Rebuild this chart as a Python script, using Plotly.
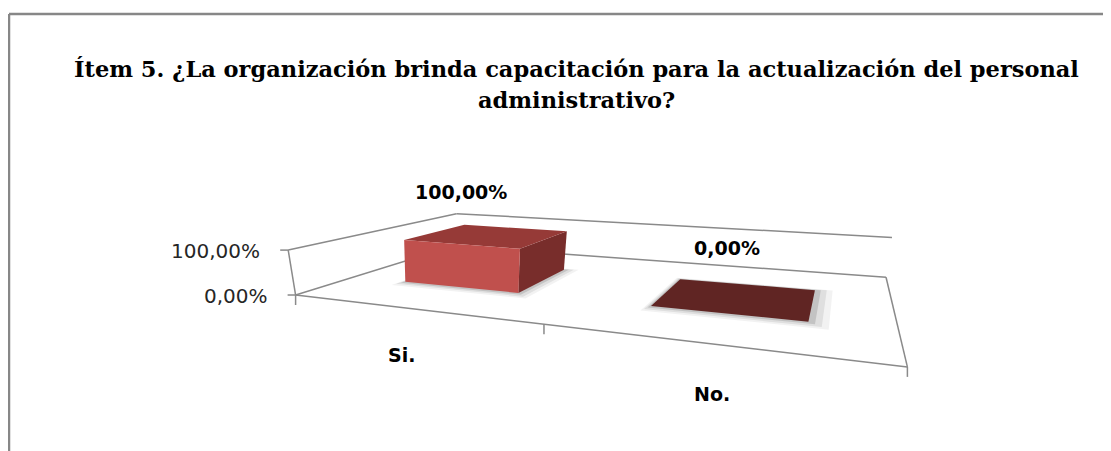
import numpy as np
import plotly.graph_objects as go

# ---- data ----
categories = ["Si.", "No."]
values = [1.0, 0.0]                       # fraction (100 % / 0 %)
value_ticks = [0.0, 1.0]
value_tick_labels = ["0,00%", "100,00%"]
title_lines = ["Ítem 5. ¿La organización brinda capacitación para la actualización del personal",
               "administrativo?"]

# ---- perspective camera (category, depth) plane at value 0 and at value 1 -> page pixels ----
H_FLOOR = np.array([[162.2608, 338.6355, 295.5993],
                    [-22.13772, 49.24903, 295.011],
                    [-0.1582963, 0.3986735, 1.0]])
H_TOP = np.array([[164.6095, 375.3272, 288.2135],
                  [-23.17019, 60.49231, 250.1039],
                  [-0.17036, 0.4536795, 1.0]])


def ph(H, X, Y):
    h = H @ np.array([X, Y, 1.0])
    return np.array([h[0] / h[2], h[1] / h[2]])


def proj(X, Y, Z):
    return (1 - Z) * ph(H_FLOOR, X, Y) + Z * ph(H_TOP, X, Y)


fig = go.Figure()
line_col = "#8a8a8a"


def seg(a, b, width=1.5, color=line_col):
    fig.add_trace(go.Scatter(x=[a[0], b[0]], y=[a[1], b[1]], mode="lines",
                             line=dict(color=color, width=width), hoverinfo="skip"))


def poly(pts, color):
    xs = [p[0] for p in pts] + [pts[0][0]]
    ys = [p[1] for p in pts] + [pts[0][1]]
    fig.add_trace(go.Scatter(x=xs, y=ys, mode="lines", fill="toself", fillcolor=color,
                             line=dict(width=0, color=color), hoverinfo="skip"))


n = len(categories)
zmax = max(value_ticks)
# side wall / back wall gridlines
for z in value_ticks:
    seg(proj(0, 0, z), proj(0, 1, z))
    seg(proj(0, 1, z), proj(n, 1, z))
# value axis, floor right edge, category axis
seg(proj(0, 0, 0), proj(0, 0, zmax))
seg(proj(n, 1, 0), proj(n, 0, 0))
seg(proj(0, 0, 0), proj(n, 0, 0))
for z in value_ticks:
    a = proj(0, 0, z)
    seg(a, a + np.array([-8, 0]))
for i in range(n + 1):
    a = proj(i, 0, 0)
    seg(a, a + np.array([0, 10]))

# ---- 3D columns ----
half_w = 0.25
y0, y1 = 0.3, 0.7
for i, (cat, v) in enumerate(zip(categories, values)):
    c = i + 0.5
    xa, xb = c - half_w, c + half_w
    for grow, op in [(0.06, 0.05), (0.04, 0.08), (0.02, 0.12)]:
        poly([proj(xa - grow * 0.3, y0 - grow, 0), proj(xb + grow, y0 - grow, 0),
              proj(xb + grow, y1 + grow * 0.3, 0), proj(xa - grow * 0.3, y1 + grow * 0.3, 0)],
             f"rgba(0,0,0,{op})")
    if v > 0:
        poly([proj(xb, y0, 0), proj(xb, y1, 0), proj(xb, y1, v), proj(xb, y0, v)], "#782d2b")
        poly([proj(xa, y0, v), proj(xb, y0, v), proj(xb, y1, v), proj(xa, y1, v)], "#963a37")
        poly([proj(xa, y0, 0), proj(xb, y0, 0), proj(xb, y0, v), proj(xa, y0, v)], "#c0504d")
    else:
        poly([proj(xa, y0, 0), proj(xb, y0, 0), proj(xb, y1, 0), proj(xa, y1, 0)], "#602523")

# ---- texts ----
annots = []
for i, (cat, v) in enumerate(zip(categories, values)):
    c = i + 0.5
    px = proj(c, y0, v)[0] + 1
    py = proj(c, y1, v)[1]
    annots.append(dict(x=px, y=py, text="<b>" + f"{v * 100:.2f}".replace(".", ",") + "%</b>",
                       yshift=36, showarrow=False,
                       font=dict(family="DejaVu Sans", size=19, color="black")))
    q = proj(c, -0.11, 0)
    annots.append(dict(x=q[0], y=q[1], text="<b>" + cat + "</b>", xshift=14, yshift=-37,
                       showarrow=False, font=dict(family="DejaVu Sans", size=19, color="black")))
for z, tl in zip(value_ticks, value_tick_labels):
    p = proj(0, 0, z)
    annots.append(dict(x=p[0], y=p[1], text=tl, xanchor="right", xshift=-26, yshift=-1,
                       showarrow=False, font=dict(family="DejaVu Sans", size=20, color="#262626")))
for ln, yy in zip(title_lines, [69, 100]):
    annots.append(dict(x=576, y=yy, text="<b>" + ln + "</b>", showarrow=False,
                       font=dict(family="DejaVu Serif", size=22.5, color="black")))
for a in annots:
    a.setdefault("xref", "x")
    a.setdefault("yref", "y")

page_margin = 8
W, Hh = 1111, 451
fig.update_layout(
    width=W - page_margin, height=Hh - page_margin, margin=dict(l=0, r=0, t=0, b=0),
    paper_bgcolor="white", plot_bgcolor="white", showlegend=False,
    xaxis=dict(range=[page_margin, W], visible=False),
    yaxis=dict(range=[Hh, page_margin], visible=False),
    annotations=annots,
    shapes=[dict(type="line", xref="x", yref="y", x0=9, x1=W, y0=14, y1=14,
                 line=dict(color="#878787", width=2.5)),
            dict(type="line", xref="x", yref="y", x0=9, x1=9, y0=14, y1=Hh,
                 line=dict(color="#878787", width=2.5))],
)
fig.write_html("out.html")
